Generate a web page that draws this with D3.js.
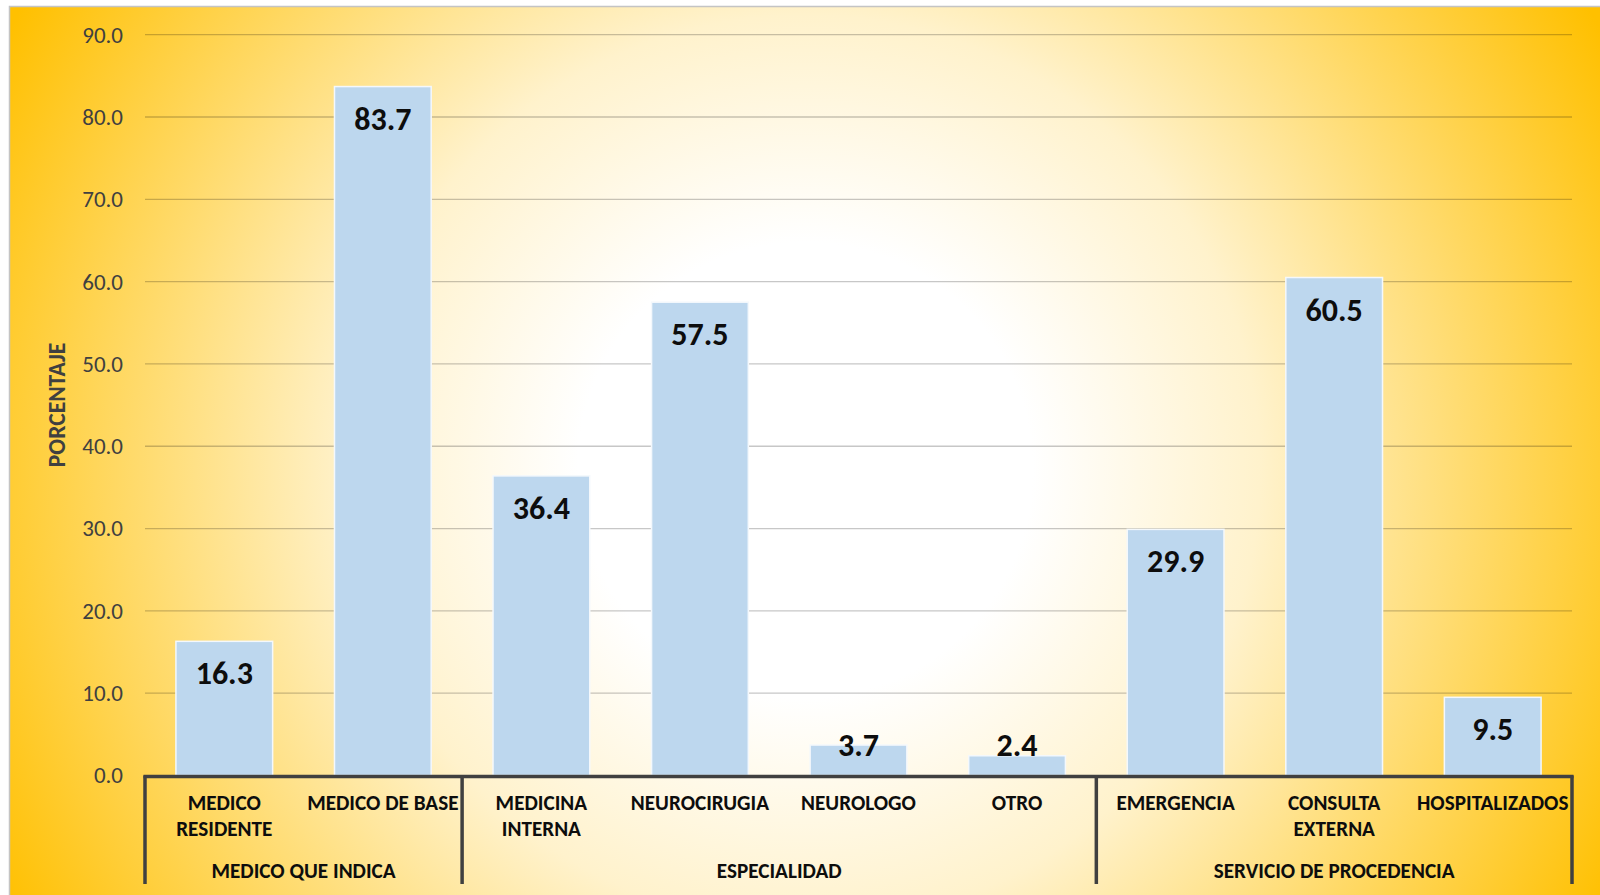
<!DOCTYPE html>
<html>
<head>
<meta charset="utf-8">
<script src="https://cdn.jsdelivr.net/npm/d3@7"></script>
<style>
  html, body { margin: 0; padding: 0; background: #ffffff; }
  svg { display: block; }
</style>
</head>
<body>
<svg id="chart" width="1600" height="895"></svg>
<script>
// ---- data ----
const categories = ["MEDICO\nRESIDENTE", "MEDICO DE BASE", "MEDICINA\nINTERNA", "NEUROCIRUGIA",
                    "NEUROLOGO", "OTRO", "EMERGENCIA", "CONSULTA\nEXTERNA", "HOSPITALIZADOS"];
const values = [16.3, 83.7, 36.4, 57.5, 3.7, 2.4, 29.9, 60.5, 9.5];
const groupNames = ["MEDICO QUE INDICA", "ESPECIALIDAD", "SERVICIO DE PROCEDENCIA"];
const groupSizes = [2, 4, 3];
const yTicks = [0, 10, 20, 30, 40, 50, 60, 70, 80, 90];
const yTitle = "PORCENTAJE";

(function () {
// ---- setup ----
const W = 1600, H = 895;
const FONT = "Carlito, Calibri, Lato, sans-serif";
const svg = d3.select("#chart");
const defs = svg.append("defs");

const grad = defs.append("radialGradient")
  .attr("id", "bg").attr("gradientUnits", "userSpaceOnUse")
  .attr("cx", 805).attr("cy", 470).attr("r", 910);
[[0, "#FFFFFF"], [0.25, "#FFFFFF"], [0.5, "#FFF2CC"], [0.75, "#FFD966"], [1, "#FFC000"]]
  .forEach(([o, c]) => grad.append("stop").attr("offset", o).attr("stop-color", c));

svg.append("rect").attr("x", 9.5).attr("y", 6.5).attr("width", W).attr("height", H)
  .attr("fill", "url(#bg)").attr("stroke", "#C4C4C4").attr("stroke-width", 1.5);

const pLeft = 145, pRight = 1572, pTop = 34.7, pBase = 775.5;
const x = d3.scaleBand().domain(categories).range([pLeft, pRight])
  .paddingInner(0.39).paddingOuter(0.195);
const y = d3.scaleLinear().domain([0, 90]).range([pBase, pTop]);

// gridlines
svg.append("g").selectAll("line").data(yTicks.filter(t => t > 0)).join("line")
  .attr("x1", pLeft).attr("x2", pRight)
  .attr("y1", d => y(d)).attr("y2", d => y(d))
  .attr("stroke", "#000").attr("stroke-opacity", 0.22).attr("stroke-width", 1.3);

// y axis labels
const yAxis = d3.axisLeft(y).tickValues(yTicks).tickFormat(d3.format(".1f"))
  .tickSize(0).tickPadding(22);
const yg = svg.append("g").attr("transform", `translate(${pLeft},0)`).call(yAxis);
yg.select(".domain").remove();
yg.selectAll("text").attr("font-family", FONT).attr("font-size", 23)
  .attr("fill", "#404040");

// y title
svg.append("text").attr("transform", "translate(65,405) rotate(-90)")
  .attr("text-anchor", "middle").attr("font-family", FONT).attr("font-weight", "bold")
  .attr("font-size", 23.5).attr("fill", "#404040").text(yTitle);

// bars
svg.append("g").selectAll("rect").data(values).join("rect")
  .attr("x", (d, i) => x(categories[i])).attr("width", x.bandwidth())
  .attr("y", d => y(d)).attr("height", d => y(0) - y(d))
  .attr("fill", "#BDD7EE").attr("stroke", "#F4F8FC").attr("stroke-width", 1.5);

// value labels
svg.append("g").selectAll("text").data(values).join("text")
  .attr("x", (d, i) => x(categories[i]) + x.bandwidth() / 2)
  .attr("y", d => Math.min(y(d) + 43, y(0) - 19.5))
  .attr("text-anchor", "middle").attr("font-family", FONT).attr("font-weight", "bold")
  .attr("font-size", 32).attr("fill", "#0D0D0D")
  .text(d => d3.format(".1f")(d));

// x axis line
svg.append("line").attr("x1", pLeft - 1.5).attr("x2", pRight + 1.5)
  .attr("y1", pBase + 1).attr("y2", pBase + 1)
  .attr("stroke", "#404040").attr("stroke-width", 3.5);

// group separators
const cum = [0];
groupSizes.forEach(s => cum.push(cum[cum.length - 1] + s));
const sepX = cum.map(c => pLeft + c * x.step());
svg.append("g").selectAll("line").data(sepX).join("line")
  .attr("x1", d => d).attr("x2", d => d).attr("y1", pBase).attr("y2", 884)
  .attr("stroke", "#404040").attr("stroke-width", 3.5);

// category labels
const catG = svg.append("g");
categories.forEach(c => {
  const cx = x(c) + x.bandwidth() / 2;
  const t = catG.append("text")
    .attr("x", cx).attr("y", 810)
    .attr("text-anchor", "middle").attr("font-family", FONT).attr("font-weight", "bold")
    .attr("font-size", 21.2).attr("fill", "#0D0D0D");
  c.split("\n").forEach((ln, i) => {
    t.append("tspan").attr("x", cx).attr("y", 810 + i * 26).text(ln);
  });
});

// group labels
svg.append("g").selectAll("text").data(groupNames).join("text")
  .attr("x", (d, i) => (sepX[i] + sepX[i + 1]) / 2).attr("y", 878)
  .attr("text-anchor", "middle").attr("font-family", FONT).attr("font-weight", "bold")
  .attr("font-size", 21.2).attr("fill", "#0D0D0D").text(d => d);
})();
</script>
</body>
</html>
